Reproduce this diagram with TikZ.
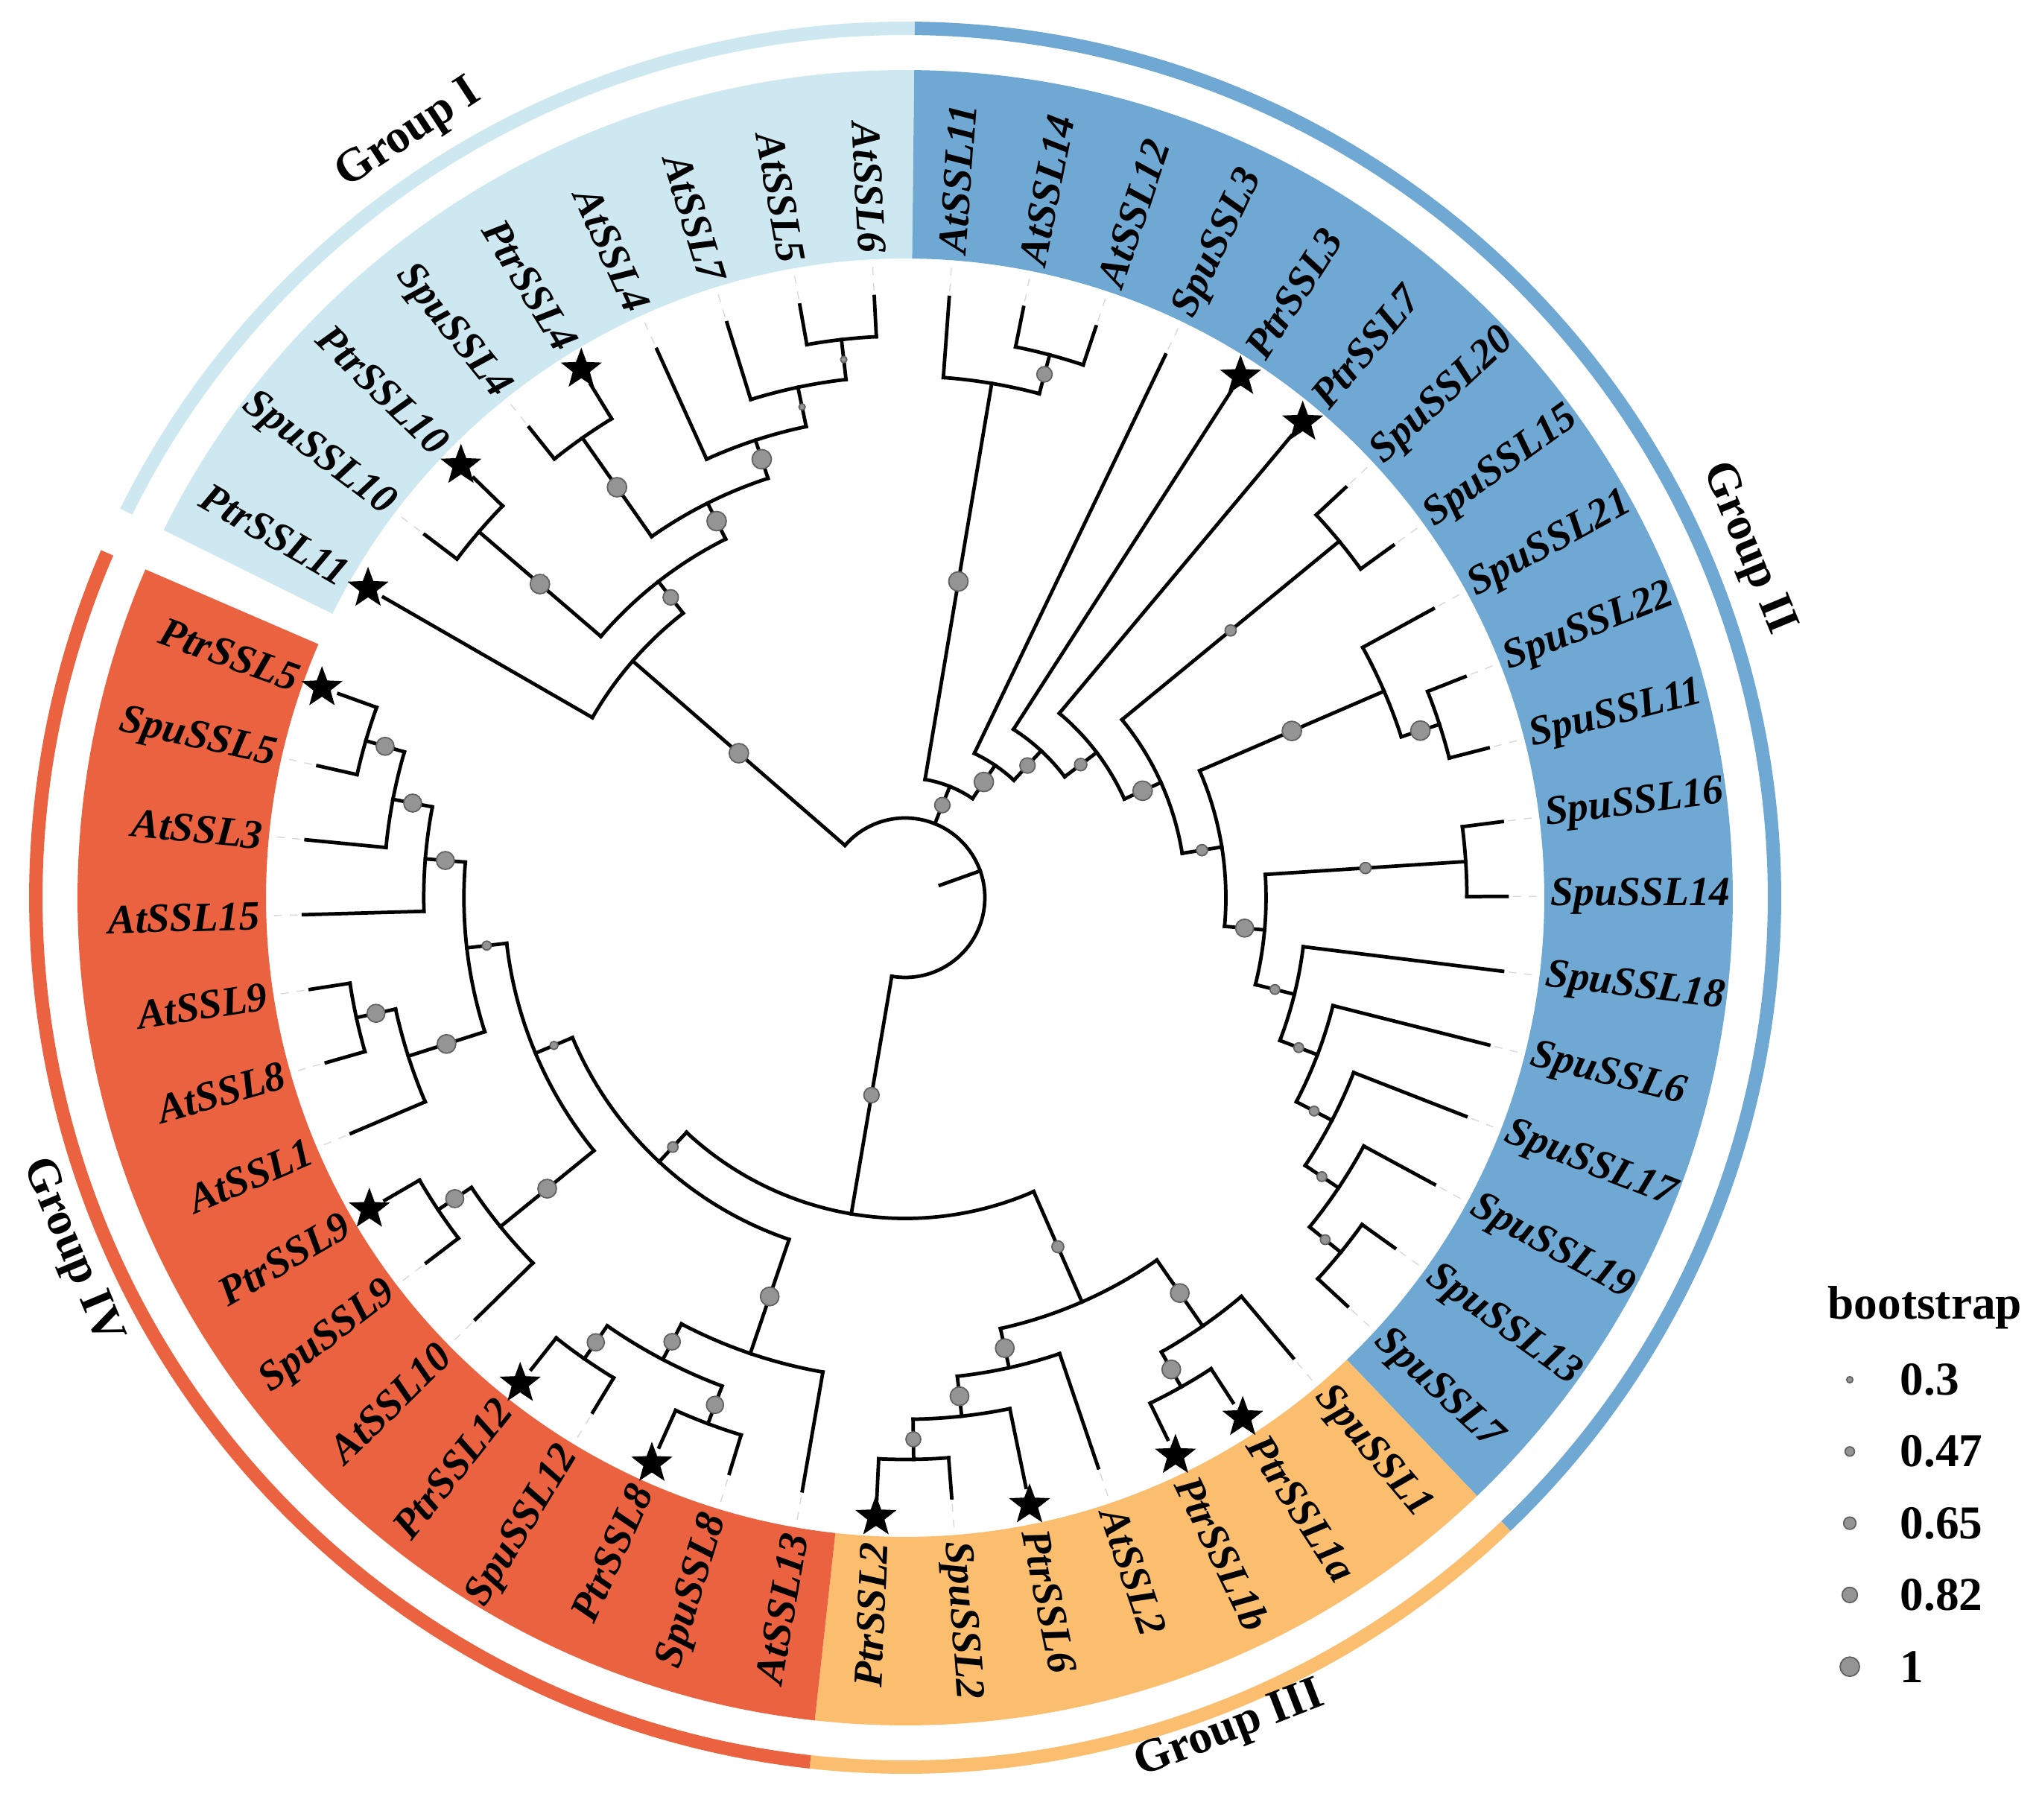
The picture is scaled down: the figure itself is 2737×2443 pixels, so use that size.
\documentclass[tikz,border=0pt]{standalone}
\usepackage{fontspec}
\setmainfont{Liberation Serif}
\usetikzlibrary{shapes.geometric}
\definecolor{grpone}{HTML}{CDE8F0}
\definecolor{grptwo}{HTML}{6FA8D3}
\definecolor{grpthree}{HTML}{FBBD6E}
\definecolor{grpfour}{HTML}{EA6240}
\begin{document}
\begin{tikzpicture}[x=0.01cm,y=0.01cm,
  branch/.style={line width=1.35pt, line cap=rect},
  bootdot/.style={fill=black!42, draw=black!62, line width=0.5pt},
  ptrstar/.style={star, star points=5, star point ratio=2.4, fill=black, minimum size=0.58cm, inner sep=0pt},
  lbl/.style={font=\fontsize{15.8}{18}\selectfont\bfseries\itshape, inner sep=0pt},
  grplbl/.style={font=\fontsize{18}{21}\selectfont\bfseries, inner sep=0pt},
  keytext/.style={font=\fontsize{18}{21}\selectfont\bfseries, inner sep=0pt},
  tipline/.style={gray!30, line width=0.4pt, dash pattern=on 3pt off 3pt}]
\useasboundingbox (-1215,-1238) rectangle (1522,1205);
\fill[white] (-1215,-1238) rectangle (1522,1205);

% group sectors and outer rings
\foreach \ga/\gb/\gc in {40.5/49.5/grpone,21.5/40.5/grptwo,14.5/21.5/grpthree,-0.5/14.5/grpfour}{
  \pgfmathsetmacro\brF{160.2+7.14*\ga}
  \pgfmathsetmacro\brE{160.2+7.14*\gb}
  \fill[\gc] (\brF:858) arc[start angle=\brF, end angle=\brE, radius=858] -- (\brE:1111) arc[start angle=\brE, end angle=\brF, radius=1111] -- cycle;
  \fill[\gc] (\brF:1158) arc[start angle=\brF, end angle=\brE, radius=1158] -- (\brE:1176) arc[start angle=\brE, end angle=\brF, radius=1176] -- cycle;
}

% root
\pgfmathsetmacro\brA{160.2+7.14*30.73828125}
\draw[branch] (\brA:50) -- (\brA:107);
\pgfmathsetmacro\brF{160.2+7.14*14.0234375}
\pgfmathsetmacro\brE{160.2+7.14*47.453125}
\draw[branch] (\brF:107) arc[start angle=\brF, end angle=\brE, radius=107];

% leaves: index / level of parent
\foreach \i/\p in {0/12,1/12,2/11,3/10,4/12,5/12,6/11,7/12,8/12,9/11,10/12,11/12,12/12,13/12,14/10,15/12,16/12,17/11,18/10,19/12,20/12,21/11,22/12,23/12,24/11,25/10,26/9,27/8,28/12,29/12,30/12,31/12,32/11,33/12,34/12,35/4,36/3,37/2,38/12,39/12,40/11,41/12,42/12,43/11,44/10,45/12,46/12,47/12,48/12,49/7}{
  \pgfmathsetmacro\brA{160.2+7.14*\i}
  \pgfmathsetmacro\brP{107+53.92*\p}
  \draw[branch] (\brA:\brP) -- (\brA:808);
  \draw[tipline] (\brA:816) -- (\brA:856);
}

% clades: index / level / parent level / first child / last child / dot radius
\foreach \i/\l/\p/\f/\e/\d in {
  47.453125/7/0/45.90625/49/13, 45.90625/8/7/44.3125/47.5/10.3, 47.5/12/8/47/48/13,
  44.3125/9/8/43.125/45.5/13, 45.5/12/9/45/46/13, 43.125/10/9/42.25/44/13,
  42.25/11/10/41.5/43/4.2, 41.5/12/11/41/42/4.2,
  37.523681640625/1/0/35.79736328125/39.25/10.3, 39.25/11/1/38.5/40/13, 38.5/12/11/38/39/10.3,
  35.79736328125/2/1/34.5947265625/37/13, 34.5947265625/3/2/33.189453125/36/10.3,
  33.189453125/4/3/31.37890625/35/8.3, 31.37890625/5/4/29.2578125/33.5/13, 33.5/12/5/33/34/7.5,
  29.2578125/6/5/27.265625/31.25/7.5, 31.25/11/6/30.5/32/13, 30.5/12/11/30/31/13,
  27.265625/7/6/26.03125/28.5/12, 28.5/12/7/28/29/7.5, 26.03125/8/7/25.0625/27/6.5,
  25.0625/9/8/24.125/26/6.5, 24.125/10/9/23.25/25/6.5, 23.25/11/10/22.5/24/6.5, 22.5/12/11/22/23/6.5,
  14.0234375/6/0/9.359375/18.6875/10.3, 18.6875/9/6/17.125/20.25/8, 17.125/10/9/16.25/18/12.5,
  16.25/11/10/15.5/17/12.5, 15.5/12/11/15/16/10, 20.25/11/9/19.5/21/12.5, 19.5/12/11/19/20/12.5,
  9.359375/7/6/5.96875/12.75/7, 5.96875/8/7/3.6875/8.25/5.5, 3.6875/9/8/2.125/5.25/6,
  2.125/10/9/1.25/3/12, 1.25/11/10/0.5/2/12, 0.5/12/11/0/1/12, 5.25/11/9/4.5/6/12.5,
  4.5/12/11/4/5/12, 8.25/11/8/7.5/9/12.5, 7.5/12/11/7/8/12, 12.75/10/7/11.5/14/12.5,
  11.5/11/10/10.5/12.5/11, 10.5/12/11/10/11/11.5, 12.5/12/11/12/13/11.5}{
  \pgfmathsetmacro\brA{160.2+7.14*\i}
  \pgfmathsetmacro\brR{107+53.92*\l}
  \pgfmathsetmacro\brP{107+53.92*\p}
  \pgfmathsetmacro\brF{160.2+7.14*\f}
  \pgfmathsetmacro\brE{160.2+7.14*\e}
  \pgfmathsetmacro\brM{(\brR+\brP)/2}
  \draw[branch] (\brA:\brP) -- (\brA:\brR);
  \draw[branch] (\brF:\brR) arc[start angle=\brF, end angle=\brE, radius=\brR];
  \filldraw[bootdot] (\brA:\brM) circle[radius=\d];
}

% Ptr genes
\foreach \i in {0,7,10,12,15,17,19,20,35,36,45,47,49}
  \node[ptrstar] (star\i) at ({160.2+7.14*\i}:832) {};

% leaf labels
\foreach \nm [count=\k from 0] in {PtrSSL5,SpuSSL5,AtSSL3,AtSSL15,AtSSL9,AtSSL8,AtSSL1,PtrSSL9,SpuSSL9,AtSSL10,PtrSSL12,SpuSSL12,PtrSSL8,SpuSSL8,AtSSL13,PtrSSL2,SpuSSL2,PtrSSL6,AtSSL2,PtrSSL1b,PtrSSL1a,SpuSSL1,SpuSSL7,SpuSSL13,SpuSSL19,SpuSSL17,SpuSSL6,SpuSSL18,SpuSSL14,SpuSSL16,SpuSSL11,SpuSSL22,SpuSSL21,SpuSSL15,SpuSSL20,PtrSSL7,PtrSSL3,SpuSSL3,AtSSL12,AtSSL14,AtSSL11,AtSSL6,AtSSL5,AtSSL7,AtSSL4,PtrSSL4,SpuSSL4,PtrSSL10,SpuSSL10,PtrSSL11}{
  \pgfmathsetmacro\brA{160.2+7.14*\k}
  \pgfmathsetmacro\brT{\brA+180}
  \ifnum\k<16
    \node[lbl, anchor=east, rotate=\brT] (\nm) at (\brA:866) {\nm};
  \else\ifnum\k>40
    \node[lbl, anchor=east, rotate=\brT] (\nm) at (\brA:866) {\nm};
  \else
    \node[lbl, anchor=west, rotate=\brA] (\nm) at (\brA:866) {\nm};
  \fi\fi
}

\node[grplbl, rotate=33.3] (grpI) at (123:1222) {Group I};
\node[grplbl, rotate=-67.5] (grpII) at (22.5:1224) {Group II};
\node[grplbl, rotate=21.3] (grpIII) at (-68.7:1200) {Group III};
\node[grplbl, rotate=-67.3] (grpIV) at (-157:1216) {Group IV};

% legend
\node[keytext, anchor=base west] (bootkey) at (1238,-565) {bootstrap};
\foreach \v/\s [count=\j] in {0.3/4.2,0.47/6.3,0.65/8.3,0.82/10.3,1/13}{
  \filldraw[bootdot] (1268,{-647-96.3*(\j-1)}) circle[radius=\s];
  \node[keytext, anchor=west] (key\j) at (1335,{-647-96.3*(\j-1)}) {\v};
}
\end{tikzpicture}
\end{document}
